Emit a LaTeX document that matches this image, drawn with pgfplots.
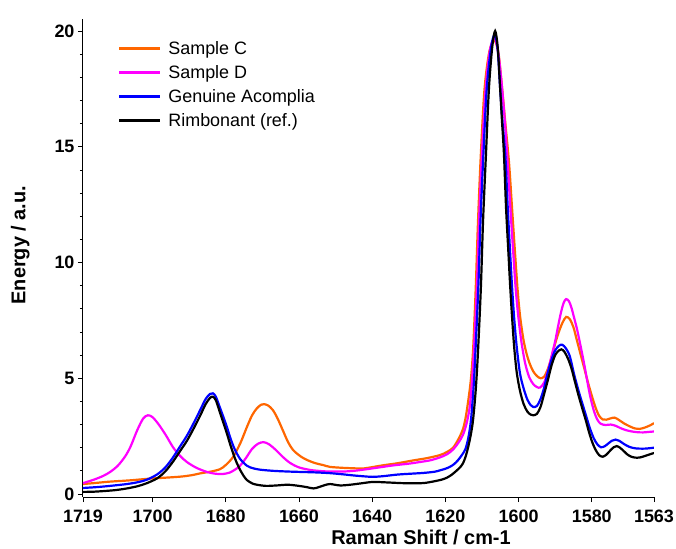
\documentclass[border=0pt]{standalone}
\usepackage{fontspec}
\setmainfont{Liberation Sans}
\usepackage{pgfplots}
\pgfplotsset{compat=1.18}
\definecolor{corange}{RGB}{255,102,0}
\definecolor{cmag}{RGB}{255,0,255}
\definecolor{cblue}{RGB}{0,0,255}

\begin{document}
\begin{tikzpicture}
\begin{axis}[
 scale only axis, width=571bp, height=478bp,
 x dir=reverse, xmin=1563, xmax=1719, ymin=-0.13, ymax=20.52,
 axis x line*=bottom, axis y line*=left,
 xtick={1719,1700,1680,1660,1640,1620,1600,1580,1563},
 xticklabels={1719,1700,1680,1660,1640,1620,1600,1580,1563},
 ytick={0,5,10,15,20}, yticklabels={0,5,10,15,20}, minor y tick num=4,
 tick align=outside, major tick length=5bp, minor tick length=3bp,
 tick style={black, line width=0.8bp},
 axis line style={line width=1bp},
 /pgf/number format/assume math mode=true,
 tick label style={font=\bfseries\fontsize{18}{20}\selectfont},
 xticklabel style={yshift=-4bp},
 xlabel={Raman Shift / cm-1}, ylabel={Energy / a.u.},
 label style={font=\bfseries\fontsize{20}{22}\selectfont},
 xlabel style={at={(axis description cs:0.592,-0.084)}, anchor=center},
 ylabel style={at={(axis description cs:-0.110,0.527)}, anchor=center},
 legend style={draw=none, fill=none, at={(axis description cs:0.0613,0.958)}, anchor=north west,
   font=\fontsize{18}{21}\selectfont, row sep=5.5bp, column sep=6bp, inner sep=0pt},
 legend cell align=left,
 legend image code/.code={\draw[mark repeat=2,mark phase=2,#1] plot coordinates {(0bp,0bp) (20bp,0bp) (40bp,0bp)};},
 every axis plot post/.append style={line width=2.2bp},
]
\addplot[corange, smooth, tension=0.5] table {
1719 0.43
1716 0.47
1712 0.53
1708 0.57
1705.3 0.60
1701 0.66
1697 0.70
1694 0.73
1691.7 0.76
1689 0.82
1687 0.89
1684 0.97
1681.6 1.07
1680 1.25
1678 1.60
1676 2.20
1674.2 2.90
1672.8 3.40
1671.5 3.70
1670.3 3.86
1669.5 3.88
1668.4 3.82
1667.1 3.62
1665.8 3.25
1664.4 2.75
1663 2.25
1661.6 1.90
1659.5 1.62
1657.8 1.47
1655.5 1.33
1653.4 1.25
1651.5 1.17
1648 1.13
1645 1.11
1642.5 1.10
1640 1.16
1637 1.24
1633 1.33
1628.8 1.45
1625 1.55
1621.5 1.68
1619.5 1.82
1617.9 2.00
1616.5 2.35
1615.2 2.80
1614.4 3.35
1613.6 4.20
1613 5.00
1612.4 6.30
1611.7 8.90
1611.1 11.70
1610.3 14.70
1609.3 17.50
1608 19.10
1606.6 19.60
1605.5 19.05
1604.6 17.70
1603.6 16.00
1602.6 14.30
1601.8 12.40
1601.0 10.50
1600.3 8.90
1599.6 7.70
1598.7 6.70
1597.8 6.05
1597 5.65
1596 5.30
1595 5.10
1594 5.00
1593 5.07
1592 5.40
1591 5.90
1590 6.50
1589 7.00
1588 7.40
1587 7.65
1586 7.55
1585 7.20
1584 6.60
1583 6.00
1582 5.40
1581 4.80
1580 4.25
1579 3.75
1578 3.38
1577 3.22
1576 3.21
1575 3.26
1573.8 3.30
1572.6 3.20
1571.2 3.05
1569.6 2.92
1568.2 2.83
1567 2.81
1565.5 2.87
1564 2.97
1563 3.06
};
\addlegendentry{Sample C}
\addplot[cmag, smooth, tension=0.5] table {
1719 0.47
1716 0.62
1713.5 0.78
1711.6 0.95
1709.5 1.22
1707.5 1.62
1706 2.05
1704.2 2.75
1702.6 3.25
1701.3 3.40
1700 3.32
1698.3 3.00
1696.4 2.55
1694.4 2.02
1692.5 1.65
1690.6 1.38
1688 1.13
1685.1 0.95
1683 0.88
1681 0.86
1679 0.92
1677.5 1.05
1676.1 1.22
1674.5 1.55
1672.8 1.95
1671.2 2.17
1669.7 2.24
1668.2 2.15
1666.3 1.90
1664.4 1.60
1662.4 1.34
1660 1.15
1657 1.04
1654 0.99
1651.5 0.97
1648 0.97
1645 1.00
1642 1.06
1638 1.15
1634 1.24
1630 1.31
1627 1.38
1624 1.46
1621.5 1.58
1619.5 1.72
1617.9 1.92
1616.5 2.20
1615.2 2.55
1614.2 3.05
1613.4 3.70
1612.8 4.70
1612.2 6.20
1611.4 8.90
1610.8 11.80
1610.0 14.70
1609.0 17.50
1607.8 19.20
1606.5 19.70
1605.5 19.00
1604.6 17.70
1603.6 15.80
1602.8 13.80
1602.1 12.00
1601.4 10.30
1600.8 8.90
1600.1 7.70
1599.2 6.55
1598.2 5.65
1597.1 5.05
1596 4.75
1595 4.62
1594.1 4.60
1593 4.82
1592 5.30
1591 5.95
1590 6.60
1589.2 7.25
1588.4 7.85
1587.7 8.25
1587 8.42
1586.2 8.32
1585.5 8.02
1584.8 7.60
1584 7.10
1583 6.35
1582 5.55
1581.2 4.85
1580.4 4.20
1579.4 3.58
1578.5 3.22
1577.6 3.04
1576.3 2.98
1574.8 3.00
1573.4 2.94
1572.2 2.85
1570.7 2.76
1569 2.70
1567.6 2.67
1566 2.66
1564.5 2.68
1563 2.70
};
\addlegendentry{Sample D}
\addplot[cblue, smooth, tension=0.5] table {
1719 0.26
1715 0.30
1711 0.36
1707 0.43
1704 0.51
1701.5 0.62
1698.7 0.85
1696.5 1.15
1694.4 1.58
1692.5 2.05
1690.6 2.52
1688.8 3.05
1687 3.62
1685.5 4.10
1684.3 4.32
1683.5 4.35
1682.7 4.20
1681.7 3.78
1680.7 3.35
1679.7 2.90
1678.7 2.40
1677.6 1.95
1676.1 1.52
1674.2 1.22
1672.5 1.11
1670.6 1.05
1667 1.00
1663 0.97
1659 0.95
1655 0.93
1651.5 0.90
1648 0.85
1645 0.80
1642 0.76
1639.8 0.74
1637 0.77
1633 0.84
1629 0.88
1626 0.91
1623 0.96
1621.5 1.02
1620 1.09
1618.8 1.17
1617.7 1.28
1616.6 1.45
1615.5 1.68
1614.5 1.95
1613.7 2.45
1613.0 3.20
1612.3 4.60
1611.8 6.10
1611.0 8.90
1610.4 11.80
1609.6 14.70
1608.7 17.50
1607.5 19.30
1606.5 19.85
1605.7 19.20
1605.1 17.70
1604.4 16.10
1603.6 14.60
1603.0 12.50
1602.4 10.70
1601.8 9.00
1601.2 7.60
1600.5 6.35
1599.6 5.20
1598.6 4.55
1597.6 4.08
1596.7 3.84
1596 3.76
1595 3.80
1594 4.10
1593 4.60
1592.1 5.20
1591 5.80
1590 6.20
1589 6.40
1588.1 6.45
1587.1 6.30
1586 5.95
1584.8 5.15
1583.6 4.45
1582.6 3.92
1581.7 3.45
1580.6 2.88
1579.5 2.42
1578.5 2.15
1577.5 2.02
1576.5 2.06
1575.5 2.18
1574.5 2.30
1573.5 2.35
1572.5 2.30
1571.3 2.17
1569.8 2.04
1568 1.97
1565.5 1.96
1563 2.00
};
\addlegendentry{Genuine Acomplia}
\addplot[black, smooth, tension=0.5] table {
1719 0.09
1716 0.10
1713 0.13
1710 0.17
1707 0.24
1704 0.34
1701.5 0.47
1698.7 0.68
1696.5 0.98
1694.4 1.40
1692.5 1.85
1690.6 2.30
1688.8 2.82
1687 3.38
1685.5 3.88
1684.3 4.15
1683.5 4.20
1682.7 4.05
1681.7 3.58
1680.7 3.10
1679.7 2.62
1678.8 2.15
1677.9 1.72
1677 1.35
1676.1 1.05
1675.1 0.78
1674.2 0.60
1672.8 0.46
1671.5 0.40
1669 0.35
1666 0.37
1663 0.40
1660 0.35
1658 0.30
1656 0.24
1654.5 0.30
1653 0.38
1651.5 0.43
1648.8 0.37
1646 0.40
1643 0.46
1639.8 0.52
1636 0.50
1632 0.47
1628 0.46
1625.5 0.48
1623 0.55
1621 0.62
1619.5 0.71
1618.2 0.84
1617 1.00
1616 1.15
1615.2 1.32
1614.5 1.60
1613.8 2.00
1613 2.60
1612.4 3.25
1611.7 4.50
1611.1 6.10
1610.3 8.90
1609.7 11.80
1608.9 14.70
1608.1 17.50
1607.2 19.30
1606.4 20.00
1605.7 19.30
1605.1 17.70
1604.6 16.30
1604.0 14.70
1603.4 12.30
1602.8 10.50
1602.3 9.00
1601.8 7.70
1601.2 6.35
1600.5 5.25
1599.6 4.45
1598.6 3.88
1597.6 3.56
1596.7 3.43
1596 3.40
1595 3.46
1594 3.76
1593 4.33
1592 4.92
1591 5.55
1590 6.00
1589 6.20
1588.3 6.25
1587.5 6.15
1586.5 5.85
1585.5 5.40
1584.6 4.85
1583.6 4.25
1582.6 3.70
1581.7 3.22
1580.8 2.70
1579.9 2.25
1579 1.92
1578 1.68
1577 1.61
1576 1.70
1575 1.87
1574 2.02
1573.2 2.07
1572.3 2.00
1571.3 1.86
1570.3 1.71
1569.2 1.61
1568 1.57
1566.8 1.58
1565.5 1.64
1564 1.72
1563 1.77
};
\addlegendentry{Rimbonant (ref.)}
\end{axis}
\pgfresetboundingbox
\path[use as bounding box] ([shift={(-83bp,-52bp)}]current axis.south west) rectangle ([shift={(22bp,19bp)}]current axis.north east);
\end{tikzpicture}
\end{document}
